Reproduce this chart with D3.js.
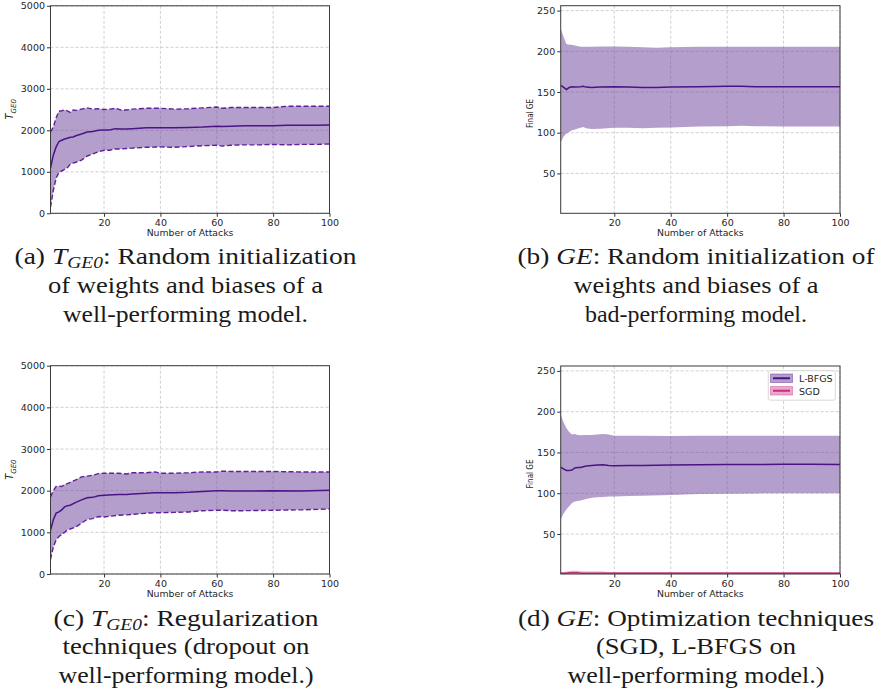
<!DOCTYPE html>
<html>
<head>
    <title>Attack results</title>
    <script src="https://d3js.org/d3.v7.min.js"></script>
    <style>
        body { margin: 0; background: #fff; }
        svg { display: block; }
        .tick text { font-family: "DejaVu Sans", sans-serif; font-size: 9.5px; fill: #262626; }
        .axlabel { font-family: "DejaVu Sans", sans-serif; fill: #262626; }
        .cap { font-family: "Liberation Serif", "Times New Roman", Times, serif; font-size: 24px; fill: #1a1a1a; }
    </style>
</head>
<body>
    <svg id="visual" width="883" height="690"></svg>

    <script>
        // (a) T_GE0, random init, well-performing model
        const xA = [1,2,3,4,5,6,7,8,9,10,12,14,16,18,20,22,24,26,28,30,35,40,45,50,55,60,62,65,70,75,80,85,90,95,100];
        const meanA = [1090,1400,1600,1730,1760,1790,1810,1830,1840,1870,1910,1960,1970,2000,2010,2010,2040,2030,2030,2040,2060,2060,2060,2070,2080,2100,2090,2100,2110,2110,2110,2120,2120,2120,2130];
        const upperA = [1960,2080,2300,2460,2470,2490,2470,2430,2490,2480,2510,2540,2510,2520,2500,2510,2530,2490,2490,2510,2530,2530,2510,2520,2540,2560,2530,2550,2550,2550,2550,2580,2580,2580,2580];
        const lowerA = [150,550,850,980,1020,1060,1100,1180,1210,1230,1280,1380,1430,1480,1520,1520,1550,1550,1560,1570,1590,1600,1590,1610,1630,1640,1620,1640,1650,1650,1660,1650,1660,1660,1670];

        // (b) GE, random init, bad-performing model
        const xB = [1,2,3,4,5,6,8,9,10,12,15,20,25,30,35,40,50,60,65,70,80,90,100];
        const meanB = [158,156,153,155.5,156.5,156,156.5,157,156,155.5,156,156.5,156,155.5,155.5,156,156.5,157,157,156.5,156.5,156.5,156.5];
        const upperB = [228,218,209,208,208,207,205.5,205.5,205.5,205.5,206,206,205.5,205,204.5,205,205.5,205.5,205.5,205.5,205.5,205.5,205.5];
        const lowerB = [88,95,99,101,103,104,106,107,105.5,104.5,105,106,106,105.5,106,106.5,107.5,108,108.5,108,107.5,107.5,107.5];

        // (c) T_GE0, dropout
        const xC = [1,2,3,4,5,6,7,8,10,12,14,16,18,20,25,28,30,35,38,40,45,50,55,60,62,65,70,80,90,100];
        const meanC = [1050,1300,1460,1490,1540,1610,1640,1650,1720,1780,1830,1840,1880,1890,1910,1910,1920,1940,1950,1950,1950,1960,1980,2000,2000,1990,1990,2000,1990,2010];
        const upperC = [1850,2000,2100,2110,2100,2150,2170,2200,2260,2330,2350,2370,2410,2420,2420,2400,2430,2430,2450,2420,2420,2430,2450,2450,2470,2460,2460,2460,2450,2450];
        const lowerC = [350,650,820,900,950,1000,1060,1080,1130,1220,1310,1330,1380,1370,1410,1420,1430,1460,1470,1470,1480,1490,1520,1530,1530,1520,1520,1530,1540,1560];

        // (d) GE, optimizers
        const xD = [1,2,3,4,5,6,7,8,10,12,14,16,18,20,25,30,40,50,60,70,80,90,100];
        const meanLBFGS = [132,130,128,128,128.5,131,131.5,131.5,133.5,134,134.5,135,134,133.7,134,134,134.5,135,135.3,135.3,135.5,135.5,135.3];
        const upperLBFGS = [197,187,180,175,172,172.5,171.5,171,171.5,171.5,172,172.5,172,170.5,170.5,170.5,170.3,170.5,170.5,170.5,170.5,170.5,170.5];
        const lowerLBFGS = [68,75,80,84,88,90,90.5,91,93,94.5,95,95.5,96,96,96.5,97,98,99,99.5,99.8,100,100,100];
        const meanSGD = [2,2,2,2.5,2.5,2.5,2.5,2,2,2,2,2,2,2,2,2,2,2,2,2,2,2,2];
        const upperSGD = [3.5,3.5,4,4.5,5,5,5,4.5,4,4,4,4,3.5,3.5,3.5,3.5,3.5,3.5,3.5,3.5,3.5,3.5,3.5];
        const lowerSGD = [0,0,0,0,0,0,0,0,0,0,0,0,0,0,0,0,0,0,0,0,0,0,0];

        const xTicks = [20,40,60,80,100];
        const tgeTicks = [0,1000,2000,3000,4000,5000];
        const geTicks = [50,100,150,200,250];
        const legendLabels = ["L-BFGS","SGD"];

        const captionA = [
            [["(a) "],["T","i"],["GE0","s"],[": Random initialization"]],
            [["of weights and biases of a"]],
            [["well-performing model."]]
        ];
        const captionB = [
            [["(b) "],["GE","i"],[": Random initialization of"]],
            [["weights and biases of a"]],
            [["bad-performing model."]]
        ];
        const captionC = [
            [["(c) "],["T","i"],["GE0","s"],[": Regularization"]],
            [["techniques (dropout on"]],
            [["well-performing model.)"]]
        ];
        const captionD = [
            [["(d) "],["GE","i"],[": Optimization techniques"]],
            [["(SGD, L-BFGS on"]],
            [["well-performing model.)"]]
        ];

        const purple = { fill: "#6a3d9a", line: "#4b1486", dash: "#5e209c" };
        const pink = { fill: "#d94f9a", line: "#c2307a" };

        const svg = d3.select("#visual");
        svg.append("rect").attr("width", 883).attr("height", 690).attr("fill", "#fff");

        let clipId = 0;
        function panel(box, yDomain, yTicks, ylab) {
            const x = d3.scaleLinear().domain([1, 100]).range([box.l, box.r]);
            const y = d3.scaleLinear().domain(yDomain).range([box.b, box.t]);
            const g = svg.append("g");

            // grid
            g.selectAll(".gx").data(xTicks).enter().append("line")
                .attr("x1", d => x(d)).attr("x2", d => x(d))
                .attr("y1", box.t).attr("y2", box.b)
                .attr("stroke", "#c4c4c4").attr("stroke-width", 0.8).attr("stroke-dasharray", "3,2");
            g.selectAll(".gy").data(yTicks).enter().append("line")
                .attr("x1", box.l).attr("x2", box.r)
                .attr("y1", d => y(d)).attr("y2", d => y(d))
                .attr("stroke", "#c4c4c4").attr("stroke-width", 0.8).attr("stroke-dasharray", "3,2");

            const id = "clip" + (clipId++);
            svg.append("clipPath").attr("id", id).append("rect")
                .attr("x", box.l).attr("y", box.t).attr("width", box.r - box.l).attr("height", box.b - box.t);
            const plot = svg.append("g").attr("clip-path", "url(#" + id + ")");

            // axes
            const ax = svg.append("g").attr("transform", "translate(0," + box.b + ")")
                .call(d3.axisBottom(x).tickValues(xTicks).tickFormat(d3.format("d")).tickSize(3.5).tickPadding(2.5));
            const ay = svg.append("g").attr("transform", "translate(" + box.l + ",0)")
                .call(d3.axisLeft(y).tickValues(yTicks).tickFormat(d3.format("d")).tickSize(3.5).tickPadding(2));
            [ax, ay].forEach(a => {
                a.select(".domain").remove();
                a.selectAll(".tick line").attr("stroke", "#333");
            });
            svg.append("rect").attr("x", box.l).attr("y", box.t)
                .attr("width", box.r - box.l).attr("height", box.b - box.t)
                .attr("fill", "none").attr("stroke", "#3a3a3a").attr("stroke-width", 1);

            svg.append("text").attr("class", "axlabel")
                .attr("x", (box.l + box.r) / 2).attr("y", box.b + 23)
                .attr("text-anchor", "middle").attr("font-size", 9.3)
                .text("Number of Attacks");

            const cy = (box.t + box.b) / 2;
            if (ylab === "T") {
                const t = svg.append("text").attr("class", "axlabel")
                    .attr("transform", "translate(13," + (cy + 10) + ") rotate(-90)")
                    .attr("font-size", 10).attr("font-style", "italic");
                t.append("tspan").text("T");
                t.append("tspan").attr("dy", 2.5).attr("font-size", 7).text("GE0");
            } else {
                svg.append("text").attr("class", "axlabel")
                    .attr("transform", "translate(" + (box.l - 28) + "," + (cy + 4) + ") rotate(-90)")
                    .attr("text-anchor", "middle").attr("font-size", 8.5)
                    .attr("textLength", 29).attr("lengthAdjust", "spacingAndGlyphs")
                    .text("Final GE");
            }
            return { x, y, plot };
        }

        function band(p, xs, mean, upper, lower, col, dashed) {
            const pts = xs.map((d, i) => ({ x: d, m: mean[i], u: upper[i], lo: lower[i] }));
            p.plot.append("path").datum(pts)
                .attr("fill", col.fill).attr("fill-opacity", 0.5)
                .attr("d", d3.area().x(d => p.x(d.x)).y0(d => p.y(d.lo)).y1(d => p.y(d.u)));
            if (dashed) {
                ["u", "lo"].forEach(k => {
                    p.plot.append("path").datum(pts)
                        .attr("fill", "none").attr("stroke", col.dash).attr("stroke-width", 1.4)
                        .attr("stroke-dasharray", "5,2.5")
                        .attr("d", d3.line().x(d => p.x(d.x)).y(d => p.y(d[k])));
                });
            }
            p.plot.append("path").datum(pts)
                .attr("fill", "none").attr("stroke", col.line).attr("stroke-width", 1.5)
                .attr("d", d3.line().x(d => p.x(d.x)).y(d => p.y(d.m)));
        }

        function caption(lines, cx, y0, widths) {
            lines.forEach((segs, i) => {
                const t = svg.append("text").attr("class", "cap")
                    .attr("x", cx).attr("y", y0 + i * 28.7)
                    .attr("text-anchor", "middle")
                    .attr("textLength", widths[i]).attr("lengthAdjust", "spacingAndGlyphs");
                let sub = false;
                segs.forEach(s => {
                    const ts = t.append("tspan").text(s[0]);
                    if (s[1] === "i") ts.attr("font-style", "italic");
                    if (s[1] === "s") ts.attr("font-style", "italic").attr("font-size", 17).attr("dy", 4);
                    else if (sub) ts.attr("dy", -4);
                    sub = s[1] === "s";
                });
            });
        }

        const pa = panel({ l: 50.5, r: 329.5, t: 5.8, b: 213.3 }, [0, 5000], tgeTicks, "T");
        band(pa, xA, meanA, upperA, lowerA, purple, true);

        const pb = panel({ l: 560.7, r: 840, t: 5.7, b: 213.3 }, [1, 256], geTicks, "GE");
        band(pb, xB, meanB, upperB, lowerB, purple, false);

        const pc = panel({ l: 50.5, r: 329.5, t: 365.7, b: 574 }, [0, 5000], tgeTicks, "T");
        band(pc, xC, meanC, upperC, lowerC, purple, true);

        const pd = panel({ l: 560.7, r: 840, t: 366, b: 574 }, [1, 256], geTicks, "GE");
        band(pd, xD, meanLBFGS, upperLBFGS, lowerLBFGS, purple, false);
        band(pd, xD, meanSGD, upperSGD, lowerSGD, pink, false);

        // legend for (d)
        const lg = svg.append("g");
        lg.append("rect").attr("x", 768.3).attr("y", 370.7).attr("width", 67).attr("height", 29.5)
            .attr("rx", 2).attr("fill", "#fff").attr("fill-opacity", 0.8)
            .attr("stroke", "#d0d0d0").attr("stroke-width", 0.8);
        [purple, pink].forEach((c, i) => {
            const yy = 374 + i * 12.5;
            lg.append("rect").attr("x", 770.5).attr("y", yy).attr("width", 22).attr("height", 8.5)
                .attr("fill", c.fill).attr("fill-opacity", 0.5)
                .attr("stroke", c.fill).attr("stroke-opacity", 0.5);
            lg.append("line").attr("x1", 773).attr("x2", 790).attr("y1", yy + 4.25).attr("y2", yy + 4.25)
                .attr("stroke", c.line).attr("stroke-width", 2);
            lg.append("text").attr("class", "axlabel").attr("font-size", 9.5)
                .attr("x", 799).attr("y", yy + 8).text(legendLabels[i]);
        });

        caption(captionA, 185.5, 264.3, [342, 275, 245]);
        caption(captionB, 696, 264.3, [357, 245, 222]);
        caption(captionC, 186, 625.7, [265, 247, 255]);
        caption(captionD, 696, 625.7, [356, 200, 257]);
    </script>
</body>
</html>
